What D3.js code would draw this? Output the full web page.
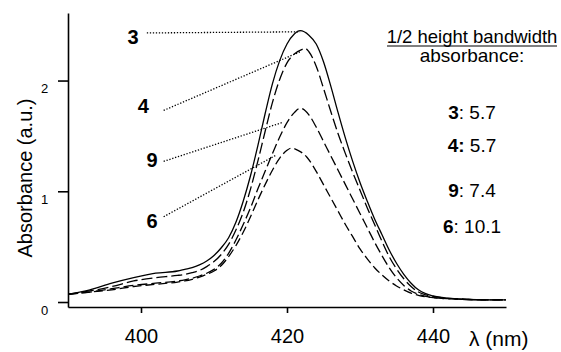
<!DOCTYPE html>
<html>
<head>
<meta charset="utf-8">
<script src="https://cdn.jsdelivr.net/npm/d3@7"></script>
<style>
  body { margin: 0; background: #fff; }
  text { font-family: "Liberation Sans", Arial, sans-serif; fill: #000; }
</style>
</head>
<body>
<script>
// Step 1: Data
//= ================================
var lambda3 = [390, 393, 396, 399, 402, 405, 406, 407, 408, 409, 410, 411, 412, 413, 414, 415, 416, 417, 418, 419, 420, 421, 421.8, 423, 424, 425, 426, 427, 428, 429, 430, 431, 432, 433, 434, 435, 436, 437, 438, 439, 440, 442, 444, 447, 450];
var abs3 = [0.07, 0.11, 0.17, 0.22, 0.26, 0.28, 0.295, 0.31, 0.335, 0.37, 0.42, 0.49, 0.58, 0.72, 0.91, 1.14, 1.41, 1.70, 1.97, 2.18, 2.33, 2.42, 2.45, 2.41, 2.33, 2.17, 1.95, 1.71, 1.48, 1.27, 1.08, 0.91, 0.75, 0.61, 0.47, 0.35, 0.25, 0.17, 0.11, 0.075, 0.055, 0.035, 0.025, 0.02, 0.02];

var lambda4 = [390, 393, 396, 399, 402, 405, 406, 407, 408, 409, 410, 411, 412, 413, 414, 415, 416, 417, 418, 419, 420, 421, 422, 422.5, 423, 424, 425, 426, 427, 428, 429, 430, 431, 432, 433, 434, 435, 436, 437, 438, 439, 440, 442, 444, 447, 450];
var abs4 = [0.07, 0.10, 0.14, 0.19, 0.22, 0.24, 0.25, 0.265, 0.285, 0.32, 0.365, 0.43, 0.52, 0.65, 0.81, 1.02, 1.27, 1.54, 1.80, 2.01, 2.16, 2.24, 2.28, 2.29, 2.26, 2.13, 1.93, 1.72, 1.52, 1.34, 1.17, 1.01, 0.85, 0.70, 0.55, 0.41, 0.30, 0.21, 0.14, 0.09, 0.065, 0.05, 0.033, 0.025, 0.02, 0.02];

var lambda9 = [390, 393, 396, 399, 402, 405, 406, 407, 408, 409, 410, 411, 412, 413, 414, 415, 416, 417, 418, 419, 420, 421, 421.8, 423, 424, 425, 426, 427, 428, 429, 430, 431, 432, 433, 434, 435, 436, 437, 438, 440, 442, 444, 447, 450];
var abs9 = [0.07, 0.09, 0.12, 0.15, 0.17, 0.19, 0.20, 0.215, 0.235, 0.26, 0.295, 0.35, 0.44, 0.56, 0.70, 0.85, 1.02, 1.18, 1.34, 1.49, 1.62, 1.71, 1.75, 1.69, 1.58, 1.45, 1.32, 1.19, 1.06, 0.93, 0.80, 0.67, 0.54, 0.42, 0.31, 0.22, 0.15, 0.10, 0.07, 0.04, 0.03, 0.025, 0.02, 0.02];

var lambda6 = [390, 393, 396, 399, 402, 405, 406, 407, 408, 409, 410, 411, 412, 413, 414, 415, 416, 417, 418, 419, 420, 420.6, 421.5, 422.7, 424, 425, 426, 427, 428, 429, 430, 431, 432, 433, 434, 435, 436, 437, 438, 440, 442, 444, 447, 450];
var abs6 = [0.07, 0.09, 0.11, 0.14, 0.16, 0.18, 0.19, 0.205, 0.225, 0.25, 0.28, 0.33, 0.41, 0.51, 0.63, 0.77, 0.92, 1.06, 1.19, 1.30, 1.37, 1.39, 1.37, 1.31, 1.18, 1.06, 0.94, 0.82, 0.70, 0.59, 0.48, 0.39, 0.31, 0.245, 0.19, 0.145, 0.11, 0.08, 0.06, 0.04, 0.03, 0.025, 0.02, 0.02];

// compound labels and their dotted leaders (data units)
var compounds = ["3", "4", "9", "6"];
var labelLambda = [398.9, 400.3, 401.5, 401.5];
var labelAbs = [2.33, 1.71, 1.22, 0.67];
var leaderStart = [[400.8, 2.43], [403.1, 1.73], [403.1, 1.27], [403.1, 0.77]];
var leaderEnd = [[421.8, 2.44], [421.8, 2.26], [419.3, 1.62], [418.6, 1.33]];

// legend on the right
var bandwidths = ["5.7", "5.7", "7.4", "10.1"];
var xTicks = [400, 420, 440];
var yTicks = [0, 1, 2];

// Step 2: Set up the chart
//= ================================
var svgWidth = 561;
var svgHeight = 352;

var svg = d3.select("body")
  .append("svg")
  .attr("width", svgWidth)
  .attr("height", svgHeight);

var xScale = d3.scaleLinear()
  .domain([390, 450])
  .range([68, 506]);

var yScale = d3.scaleLinear()
  .domain([-0.045, 2.61])
  .range([307, 13]);

// Step 3: Axes
//= ================================
var bottomAxis = d3.axisBottom(xScale)
  .tickValues(xTicks)
  .tickSize(6)
  .tickSizeOuter(0);

var leftAxis = d3.axisLeft(yScale)
  .tickValues(yTicks)
  .tickFormat(d3.format("d"))
  .tickSize(10)
  .tickSizeOuter(0);

var xAxisG = svg.append("g")
  .attr("transform", "translate(0, 307)")
  .call(bottomAxis);
xAxisG.selectAll("text")
  .attr("y", 36)
  .attr("dy", 0)
  .style("font-size", "20px");

var yAxisG = svg.append("g")
  .attr("transform", "translate(68, 0)")
  .call(leftAxis);
yAxisG.selectAll("text")
  .attr("text-anchor", "middle")
  .attr("x", -23.5)
  .attr("dy", 0)
  .attr("y", 12)
  .style("font-size", "13px");

svg.selectAll(".domain, .tick line")
  .attr("stroke", "#000")
  .attr("stroke-width", 1.6);

svg.append("text")
  .attr("transform", "translate(32, 178) rotate(-90)")
  .attr("text-anchor", "middle")
  .style("font-size", "20px")
  .text("Absorbance (a.u.)");

svg.append("text")
  .attr("x", 469)
  .attr("y", 346)
  .style("font-size", "21px")
  .text("\u03bb (nm)");

// Step 4: Spectra
//= ================================
var line = d3.line()
  .x(d => xScale(d[0]))
  .y(d => yScale(d[1]))
  .curve(d3.curveMonotoneX);

var spectra = [
  { lam: lambda3, abs: abs3, dash: null },
  { lam: lambda4, abs: abs4, dash: "11,4" },
  { lam: lambda9, abs: abs9, dash: "10,4" },
  { lam: lambda6, abs: abs6, dash: "9,4" }
];

spectra.forEach(function(s) {
  svg.append("path")
    .datum(d3.zip(s.lam, s.abs))
    .attr("d", line)
    .attr("fill", "none")
    .attr("stroke", "#000")
    .attr("stroke-width", 1.3)
    .attr("stroke-dasharray", s.dash);
});

// Step 5: Compound labels with dotted leaders
//= ================================
compounds.forEach(function(c, i) {
  svg.append("line")
    .attr("x1", xScale(leaderStart[i][0]))
    .attr("y1", yScale(leaderStart[i][1]))
    .attr("x2", xScale(leaderEnd[i][0]))
    .attr("y2", yScale(leaderEnd[i][1]))
    .attr("stroke", "#000")
    .attr("stroke-width", 1.3)
    .attr("stroke-dasharray", "1.3,1.7");

  svg.append("text")
    .attr("x", xScale(labelLambda[i]))
    .attr("y", yScale(labelAbs[i]))
    .attr("text-anchor", "middle")
    .style("font-size", "20px")
    .style("font-weight", "bold")
    .text(c);
});

// Step 6: Legend
//= ================================
var legend = svg.append("g")
  .attr("text-anchor", "middle");

legend.append("text")
  .attr("x", 472)
  .attr("y", 43)
  .style("font-size", "18.5px")
  .text("1/2 height bandwidth");

legend.append("line")
  .attr("x1", 387)
  .attr("x2", 557)
  .attr("y1", 46)
  .attr("y2", 46)
  .attr("stroke", "#000")
  .attr("stroke-width", 1.2);

legend.append("text")
  .attr("x", 472)
  .attr("y", 62)
  .style("font-size", "19px")
  .text("absorbance:");

var legendY = [119, 152, 197, 233];
compounds.forEach(function(c, i) {
  var t = legend.append("text")
    .attr("x", 472)
    .attr("y", legendY[i])
    .style("font-size", "19px");
  t.append("tspan").style("font-weight", "bold").text(c);
  t.append("tspan").style("font-weight", i === 1 ? "bold" : "normal").text(":");
  t.append("tspan").text(" " + bandwidths[i]);
});
</script>
</body>
</html>
